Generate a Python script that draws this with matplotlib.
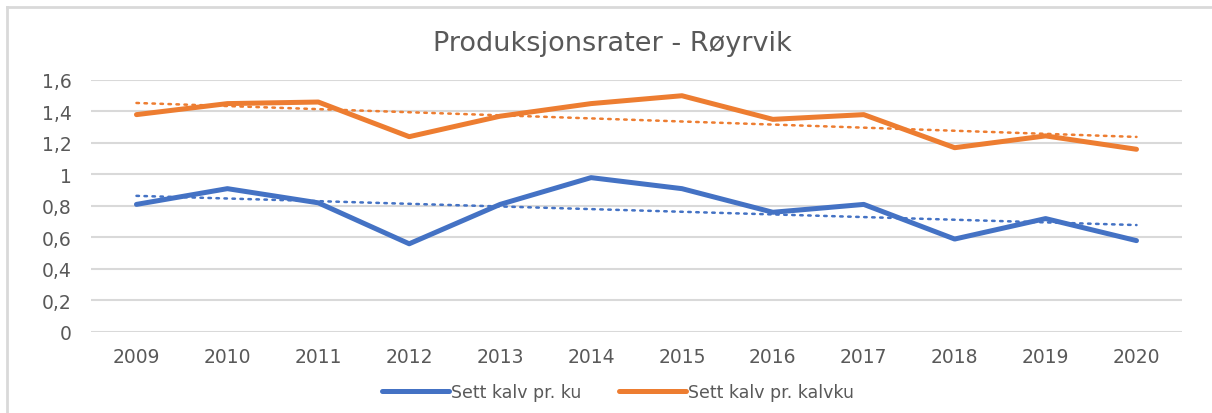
import numpy as np
import matplotlib.pyplot as plt
from matplotlib.lines import Line2D

years = ["2009", "2010", "2011", "2012", "2013", "2014",
         "2015", "2016", "2017", "2018", "2019", "2020"]
kalv_pr_ku = [0.81, 0.91, 0.82, 0.56, 0.81, 0.98, 0.91, 0.76, 0.81, 0.59, 0.72, 0.58]
kalv_pr_kalvku = [1.38, 1.45, 1.46, 1.24, 1.37, 1.45, 1.50, 1.35, 1.38, 1.17, 1.245, 1.16]
yticks = [0, 0.2, 0.4, 0.6, 0.8, 1, 1.2, 1.4, 1.6]
ytick_labels = ["0", "0,2", "0,4", "0,6", "0,8", "1", "1,2", "1,4", "1,6"]

blue = "#4472C4"
orange = "#ED7D31"
grey_text = "#595959"
grid = "#D9D9D9"

plt.rcParams["font.family"] = ["DejaVu Sans"]

fig = plt.figure(figsize=(12.12, 4.14), dpi=100)
ax = fig.add_axes([0.0751, 0.1957, 0.9001, 0.6087])

x = np.arange(len(years))
ax.plot(x, kalv_pr_ku, color=blue, lw=3.6, solid_capstyle="round", zorder=3)
ax.plot(x, kalv_pr_kalvku, color=orange, lw=3.6, solid_capstyle="round", zorder=3)

# linear trend lines
for series, col in [(kalv_pr_ku, blue), (kalv_pr_kalvku, orange)]:
    k, m = np.polyfit(x, series, 1)
    ax.plot(x, k * x + m, color=col, lw=1.8, linestyle=(0, (1, 2.2)),
            dash_capstyle="round", zorder=2)

ax.set_xlim(-0.5, len(years) - 0.5)
ax.set_ylim(0, 1.6)
ax.set_xticks(x)
ax.set_xticklabels(years)
ax.set_yticks(yticks)
ax.set_yticklabels(ytick_labels)
ax.tick_params(axis="both", length=0, labelsize=13.5, colors=grey_text)
ax.tick_params(axis="x", pad=11)
ax.tick_params(axis="y", pad=14)
ax.grid(axis="y", color=grid, lw=1.5)
ax.set_axisbelow(True)
for s in ax.spines.values():
    s.set_visible(False)

fig.text(0.505, 0.894, "Produksjonsrater - Røyrvik", ha="center", va="center",
         fontsize=19.5, color=grey_text)

handles = [Line2D([], [], color=blue, lw=3.6, solid_capstyle="round"),
           Line2D([], [], color=orange, lw=3.6, solid_capstyle="round")]
fig.legend(handles, ["Sett kalv pr. ku", "Sett kalv pr. kalvku"],
           loc="center", bbox_to_anchor=(0.51, 0.05), ncol=2, frameon=False,
           fontsize=12.5, handlelength=3.85, handletextpad=0.1, columnspacing=2.2,
           labelcolor=grey_text)

# chart border
fig.add_artist(Line2D([0.006, 0.006], [0, 0.981], color=grid, lw=2))
fig.add_artist(Line2D([0.006, 1], [0.981, 0.981], color=grid, lw=2))

fig.savefig("out.png", dpi=100)
